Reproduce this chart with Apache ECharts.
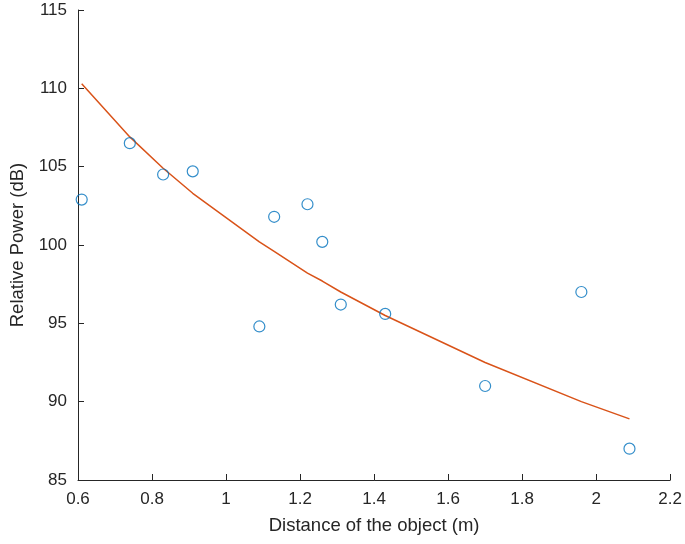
<!DOCTYPE html>
<html>
<head>
<meta charset="utf-8">
<script src="https://cdn.jsdelivr.net/npm/echarts@6/dist/echarts.min.js"></script>
<style>html,body{margin:0;padding:0;background:#fff;}#c{width:685px;height:544px;}</style>
</head>
<body>
<div id="c"></div>
<script>
var distances = [0.61, 0.74, 0.83, 0.91, 1.09, 1.13, 1.22, 1.26, 1.31, 1.43, 1.70, 1.96, 2.09];
var measuredPower = [102.9, 106.5, 104.5, 104.7, 94.8, 101.8, 102.6, 100.2, 96.2, 95.6, 91.0, 97.0, 87.0];
var fittedPower = [110.3, 106.9, 104.9, 103.3, 100.2, 99.6, 98.2, 97.7, 97.0, 95.5, 92.5, 90.0, 88.9];
var xLabel = 'Distance of the object (m)';
var yLabel = 'Relative Power (dB)';

var chart = echarts.init(document.getElementById('c'));
var axisCol = '#262626';
var font = 'Liberation Sans, Arial, sans-serif';
chart.setOption({
  animation: false,
  grid: {left: 78, right: 13, top: 10, bottom: 64},
  xAxis: {
    type: 'value', min: 0.6, max: 2.2, interval: 0.2,
    name: xLabel, nameLocation: 'middle', nameGap: 36,
    nameTextStyle: {color: axisCol, fontSize: 18.5, fontFamily: font},
    axisLine: {lineStyle: {color: axisCol, width: 1}},
    axisTick: {inside: true, length: 6, lineStyle: {color: axisCol}},
    axisLabel: {color: axisCol, fontSize: 17, fontFamily: font, margin: 11, showMaxLabel: true, showMinLabel: true},
    splitLine: {show: false}
  },
  yAxis: {
    type: 'value', min: 85, max: 115, interval: 5,
    name: yLabel, nameLocation: 'middle', nameGap: 43, nameRotate: 90,
    nameTextStyle: {color: axisCol, fontSize: 18.5, fontFamily: font},
    axisLine: {show: true, lineStyle: {color: axisCol, width: 1}},
    axisTick: {show: true, inside: true, length: 6, lineStyle: {color: axisCol}},
    axisLabel: {color: axisCol, fontSize: 17, fontFamily: font, margin: 11},
    splitLine: {show: false}
  },
  series: [
    {
      type: 'line',
      data: distances.map(function (d, i) { return [d, fittedPower[i]]; }),
      showSymbol: false, symbol: 'none',
      lineStyle: {color: '#D95319', width: 1.5},
      z: 2
    },
    {
      type: 'scatter',
      data: distances.map(function (d, i) { return [d, measuredPower[i]]; }),
      symbol: 'circle', symbolSize: 11,
      itemStyle: {color: 'rgba(0,0,0,0)', borderColor: '#0072BD', borderWidth: 1.2},
      z: 3
    }
  ]
});
</script>
</body>
</html>
